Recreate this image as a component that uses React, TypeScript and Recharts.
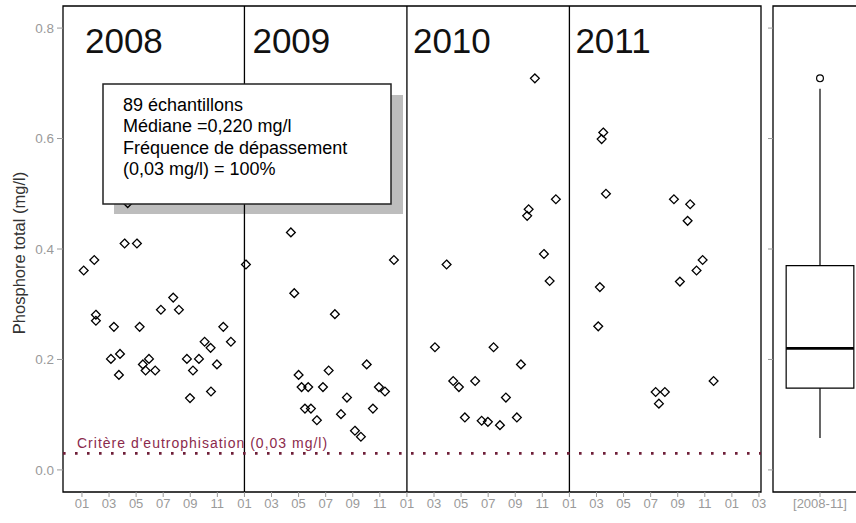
import React from 'react';
import {
  ComposedChart,
  Scatter,
  XAxis,
  YAxis,
  ReferenceLine,
  ReferenceArea,
} from 'recharts';

// ---------- DATA ----------
const years = [2008, 2009, 2010, 2011];
const yearLabels = ['2008', '2009', '2010', '2011'];

// month offset within the year (0 = 1 January) and total phosphorus (mg/l)
const months2008 = [3.15, 4.06, 0.91, 0.13, 6.74, 5.83, 7.16, 1.03, 1.03, 2.36, 4.26, 10.44, 9.06, 9.5, 11.0, 2.14, 2.81, 4.95, 4.5, 4.7, 5.41, 7.75, 8.64, 9.97, 8.2, 2.73, 9.53, 7.98, 3.38];
const values2008 = [0.41, 0.41, 0.38, 0.361, 0.312, 0.29, 0.29, 0.281, 0.27, 0.259, 0.259, 0.259, 0.232, 0.221, 0.232, 0.201, 0.21, 0.201, 0.191, 0.18, 0.18, 0.201, 0.201, 0.191, 0.18, 0.172, 0.142, 0.13, 0.483];

const months2009 = [0.11, 3.43, 11.04, 3.68, 6.68, 9.03, 6.22, 4.0, 4.22, 4.71, 5.8, 9.93, 10.38, 7.57, 4.47, 4.91, 9.49, 7.13, 5.35, 8.16, 8.6];
const values2009 = [0.372, 0.43, 0.38, 0.32, 0.282, 0.191, 0.18, 0.172, 0.15, 0.15, 0.15, 0.15, 0.142, 0.131, 0.111, 0.111, 0.111, 0.101, 0.09, 0.071, 0.06];

const months2010 = [9.45, 11.0, 8.99, 8.88, 10.12, 2.93, 10.54, 2.07, 6.4, 8.42, 3.42, 3.84, 5.04, 7.31, 4.28, 5.52, 5.98, 6.87, 8.12];
const values2010 = [0.709, 0.49, 0.472, 0.46, 0.391, 0.372, 0.342, 0.222, 0.222, 0.191, 0.161, 0.15, 0.161, 0.131, 0.095, 0.089, 0.087, 0.081, 0.095];

const months2011 = [2.5, 2.38, 2.7, 7.72, 8.92, 8.73, 9.84, 9.39, 8.16, 2.25, 2.13, 10.65, 6.37, 7.05, 6.61];
const values2011 = [0.611, 0.599, 0.5, 0.49, 0.481, 0.451, 0.38, 0.361, 0.341, 0.331, 0.26, 0.161, 0.141, 0.141, 0.12];

const yTicks = [0, 0.2, 0.4, 0.6, 0.8];
const xTicks = [0, 2, 4, 6, 8, 10, 12, 14, 16, 18, 20, 22, 24, 26, 28, 30, 32, 34, 36, 38, 40, 42, 44, 46, 48, 50];
const monthLabels = ['01', '03', '05', '07', '09', '11'];

const thresholdValue = 0.03;
const thresholdLabel = "Critère d'eutrophisation (0,03 mg/l)";
const yAxisTitle = 'Phosphore total (mg/l)';
const summaryLines = ['89 échantillons', 'Médiane =0,220 mg/l', 'Fréquence de dépassement', '(0,03 mg/l) = 100%'];

const boxCategory = '[2008-11]';
const boxQ1 = 0.148;
const boxMedian = 0.22;
const boxQ3 = 0.37;
const boxWhiskerLow = 0.058;
const boxWhiskerHigh = 0.69;
const boxOutliers = [0.709];

// ---------- BUILD ----------
const monthsByYear = [months2008, months2009, months2010, months2011];
const valuesByYear = [values2008, values2009, values2010, values2011];
const samples = years.flatMap((yr, i) =>
  monthsByYear[i].map((m, j) => ({ x: (yr - years[0]) * 12 + m, y: valuesByYear[i][j] }))
);
const yearStarts = years.map((yr) => (yr - years[0]) * 12);
const outlierData = boxOutliers.map((v) => ({ x: 0, y: v }));

// ---------- STYLE ----------
const FONT = 'Liberation Sans, Arial, Helvetica, sans-serif';
const GRAY = '#9a9a9a';
const X_DOMAIN: [number, number] = [-1.4, 50.15];
const Y_DOMAIN: [number, number] = [-0.04, 0.84];
const yearLabelDx = [3, 8, 6, 6];
const BOX_HALF = 0.72;

const Diamond = (props: any) => {
  const { cx, cy } = props;
  if (cx == null || cy == null) return null;
  const r = 4.4;
  return (
    <path
      d={`M${cx},${cy - r}L${cx + r},${cy}L${cx},${cy + r}L${cx - r},${cy}Z`}
      fill="none"
      stroke="#000"
      strokeWidth={1.3}
    />
  );
};

const OpenCircle = (props: any) => {
  const { cx, cy } = props;
  if (cx == null || cy == null) return null;
  return <circle cx={cx} cy={cy} r={3.4} fill="none" stroke="#000" strokeWidth={1.2} />;
};

const monthTick = (v: number) => monthLabels[Math.round((((v % 12) + 12) % 12) / 2)];

export default function App() {
  return (
    <div style={{ position: 'absolute', left: 0, top: 0, width: 856, height: 523, overflow: 'hidden', background: '#fff' }}>
      {/* shadow of annotation box (behind points) */}
      <svg width={856} height={523} style={{ position: 'absolute', left: 0, top: 0 }}>
        <rect x={114} y={95} width={289} height={119} fill="#bdbdbd" />
      </svg>

      <div style={{ position: 'absolute', left: 0, top: 0 }}>
        <ComposedChart width={856} height={523} margin={{ top: 6, right: 95, bottom: 0, left: 0 }}>
          <XAxis
            type="number"
            dataKey="x"
            domain={X_DOMAIN}
            allowDataOverflow
            ticks={xTicks}
            interval={0}
            tickFormatter={monthTick}
            height={31}
            axisLine={false}
            tickLine={{ stroke: GRAY }}
            tickSize={5}
            tick={{ fill: GRAY, fontSize: 13, fontFamily: FONT }}
          />
          <YAxis
            type="number"
            dataKey="y"
            domain={Y_DOMAIN}
            allowDataOverflow
            ticks={yTicks}
            interval={0}
            tickFormatter={(v: number) => v.toFixed(1)}
            width={63}
            axisLine={false}
            tickLine={{ stroke: GRAY }}
            tickSize={6}
            tickMargin={3}
            tick={{ fill: GRAY, fontSize: 13.5, fontFamily: FONT }}
            label={(p: any) => {
              const vb = p.viewBox || {};
              const cx = (vb.x ?? 0) + 19;
              const cy = (vb.y ?? 0) + (vb.height ?? 0) / 2 + 4;
              return (
                <text
                  x={cx}
                  y={cy}
                  transform={`rotate(-90 ${cx} ${cy})`}
                  textAnchor="middle"
                  dominantBaseline="central"
                  fontSize={16.5}
                  fontFamily={FONT}
                  fill="#333"
                >
                  {yAxisTitle}
                </text>
              );
            }}
          />
          <ReferenceArea
            x1={X_DOMAIN[0]}
            x2={X_DOMAIN[1]}
            y1={Y_DOMAIN[0]}
            y2={Y_DOMAIN[1]}
            fill="none"
            fillOpacity={0}
            stroke="#000"
            strokeWidth={1.3}
            ifOverflow="visible"
          />
          {yearStarts.map((xs, i) => (
            <ReferenceLine
              key={xs}
              x={xs}
              stroke="#000"
              strokeWidth={1.3}
              strokeOpacity={i === 0 ? 0 : 1}
              label={(p: any) => {
                const vb = p.viewBox || {};
                return (
                  <text
                    x={(vb.x ?? 0) + yearLabelDx[i]}
                    y={(vb.y ?? 0) + 47}
                    fontSize={35}
                    fontFamily={FONT}
                    fill="#111"
                  >
                    {yearLabels[i]}
                  </text>
                );
              }}
            />
          ))}
          <ReferenceLine
            y={thresholdValue}
            stroke="#6e1f38"
            strokeWidth={2.6}
            strokeDasharray="2.6 9.4"
            label={(p: any) => {
              const vb = p.viewBox || {};
              return (
                <text
                  x={(vb.x ?? 0) + 14}
                  y={(vb.y ?? 0) - 5}
                  fontSize={14}
                  letterSpacing={1}
                  fontFamily={FONT}
                  fill="#8b2a4c"
                >
                  {thresholdLabel}
                </text>
              );
            }}
          />
          <Scatter data={samples} shape={Diamond} isAnimationActive={false} />
        </ComposedChart>
      </div>

      {/* box plot panel */}
      <div style={{ position: 'absolute', left: 760, top: 0 }}>
        <ComposedChart width={120} height={523} margin={{ top: 6, right: 13, bottom: 0, left: 0 }}>
          <XAxis
            type="number"
            dataKey="x"
            domain={[-1, 1]}
            allowDataOverflow
            ticks={[0]}
            interval={0}
            tickFormatter={() => boxCategory}
            height={31}
            axisLine={false}
            tickLine={{ stroke: GRAY }}
            tickSize={5}
            tick={{ fill: GRAY, fontSize: 13, fontFamily: FONT }}
          />
          <YAxis
            type="number"
            dataKey="y"
            domain={Y_DOMAIN}
            allowDataOverflow
            ticks={yTicks}
            interval={0}
            tickFormatter={() => ''}
            width={13}
            axisLine={false}
            tickLine={{ stroke: GRAY }}
            tickSize={5}
          />
          <ReferenceArea
            x1={-1}
            x2={1}
            y1={Y_DOMAIN[0]}
            y2={Y_DOMAIN[1]}
            fill="none"
            fillOpacity={0}
            stroke="#000"
            strokeWidth={1.3}
            ifOverflow="visible"
          />
          <ReferenceLine segment={[{ x: 0, y: boxQ3 }, { x: 0, y: boxWhiskerHigh }]} stroke="#000" strokeWidth={1.2} />
          <ReferenceLine segment={[{ x: 0, y: boxWhiskerLow }, { x: 0, y: boxQ1 }]} stroke="#000" strokeWidth={1.2} />
          <ReferenceArea
            x1={-BOX_HALF}
            x2={BOX_HALF}
            y1={boxQ1}
            y2={boxQ3}
            fill="#fff"
            fillOpacity={1}
            stroke="#000"
            strokeWidth={1.2}
          />
          <ReferenceLine segment={[{ x: -BOX_HALF, y: boxMedian }, { x: BOX_HALF, y: boxMedian }]} stroke="#000" strokeWidth={2.6} />
          <Scatter data={outlierData} shape={OpenCircle} isAnimationActive={false} />
        </ComposedChart>
      </div>

      {/* annotation box */}
      <svg width={856} height={523} style={{ position: 'absolute', left: 0, top: 0, pointerEvents: 'none' }}>
        <rect x={103} y={84} width={288} height={120} fill="#fff" stroke="#222" strokeWidth={1.5} />
        {summaryLines.map((line, i) => (
          <text key={i} x={123} y={111 + i * 21.3} fontSize={18} fontFamily={FONT} fill="#000">
            {line}
          </text>
        ))}
      </svg>
    </div>
  );
}
